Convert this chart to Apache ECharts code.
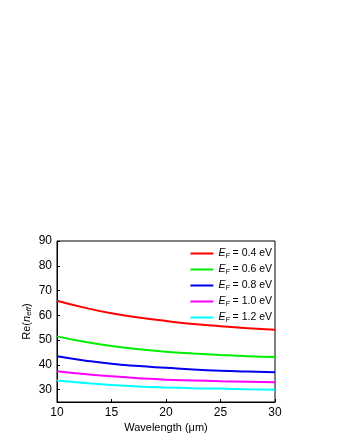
<!DOCTYPE html>
<html>
<head>
<meta charset="utf-8">
<script src="https://cdn.jsdelivr.net/npm/echarts@6/dist/echarts.min.js"></script>
<style>
  html, body { margin: 0; padding: 0; background: #fff; }
  #chart { width: 340px; height: 440px; }
</style>
</head>
<body>
<div id="chart"></div>
<script>
const wavelength = [10, 12.5, 15, 17.5, 20, 22.5, 25, 27.5, 30];
const ef04 = [65.9, 63.1, 60.8, 59.1, 57.7, 56.5, 55.6, 54.8, 54.2];
const ef06 = [51.5, 49.3, 47.6, 46.3, 45.3, 44.6, 44.0, 43.5, 43.2];
const ef08 = [43.5, 41.8, 40.4, 39.5, 38.8, 38.1, 37.6, 37.3, 37.0];
const ef10 = [37.4, 36.3, 35.4, 34.6, 34.0, 33.7, 33.4, 33.2, 33.0];
const ef12 = [33.7, 32.7, 31.9, 31.3, 30.9, 30.6, 30.4, 30.1, 29.9];
const seriesNames = ['0.4 eV', '0.6 eV', '0.8 eV', '1.0 eV', '1.2 eV'];
const seriesColors = ['#ff0000', '#00ee00', '#0000ee', '#ff00ff', '#00ffff'];
const seriesData = [ef04, ef06, ef08, ef10, ef12];

const font = 'Liberation Sans, Arial, sans-serif';
const myChart = echarts.init(document.getElementById('chart'));

const option = {
  backgroundColor: '#fff',
  animation: false,
  textStyle: { fontFamily: font },
  grid: {
    left: 57, right: 65, top: 241, bottom: 38,
    show: true, borderColor: '#000', borderWidth: 1, backgroundColor: 'transparent'
  },
  legend: {
    orient: 'vertical',
    right: 63,
    top: 243,
    itemWidth: 23,
    itemHeight: 2,
    itemGap: 4,
    icon: 'rect',
    textStyle: {
      fontSize: 10.5, color: '#000', fontFamily: font,
      rich: {
        i: { fontStyle: 'italic', fontSize: 10.5, color: '#000', fontFamily: font },
        s: { fontStyle: 'italic', fontSize: 7, color: '#000', fontFamily: font, padding: [6, 0, 0, 0] },
        t: { fontSize: 10.5, color: '#000', fontFamily: font }
      }
    },
    formatter: name => '{i|E}{s|F}{t| = ' + name + '}'
  },
  xAxis: {
    type: 'value',
    min: 10, max: 30, interval: 5,
    name: 'Wavelength (\u03bcm)',
    nameLocation: 'middle',
    nameGap: 20,
    nameTextStyle: { fontSize: 11, color: '#000', fontFamily: font },
    axisLine: { lineStyle: { color: '#000', width: 1 } },
    axisTick: { inside: true, length: 3, lineStyle: { color: '#000' } },
    axisLabel: { fontSize: 12, color: '#000', margin: 5, fontFamily: font },
    splitLine: { show: false }
  },
  yAxis: {
    type: 'value',
    min: 25, max: 90,
    name: '{t|Re(}{i|n}{s|eff}{t|)}',
    nameLocation: 'middle',
    nameGap: 24,
    nameMoveOverlap: false,
    nameTextStyle: {
      fontSize: 11, color: '#000', fontFamily: font,
      rich: {
        t: { fontSize: 11, color: '#000', fontFamily: font },
        i: { fontStyle: 'italic', fontSize: 11, color: '#000', fontFamily: font },
        s: { fontStyle: 'italic', fontSize: 8, color: '#000', fontFamily: font, padding: [5, 0, 0, 0] }
      }
    },
    axisLine: { show: true, lineStyle: { color: '#000', width: 1 } },
    axisTick: { show: true, inside: true, length: 3, lineStyle: { color: '#000' }, customValues: [30, 40, 50, 60, 70, 80, 90] },
    axisLabel: { fontSize: 12, color: '#000', margin: 5, fontFamily: font, customValues: [30, 40, 50, 60, 70, 80, 90] },
    splitLine: { show: false }
  },
  series: seriesNames.map((name, i) => ({
    name: name,
    type: 'line',
    smooth: true,
    showSymbol: false,
    data: wavelength.map((w, j) => [w, seriesData[i][j]]),
    lineStyle: { color: seriesColors[i], width: 2 },
    itemStyle: { color: seriesColors[i] }
  }))
};

myChart.setOption(option);
</script>
</body>
</html>
